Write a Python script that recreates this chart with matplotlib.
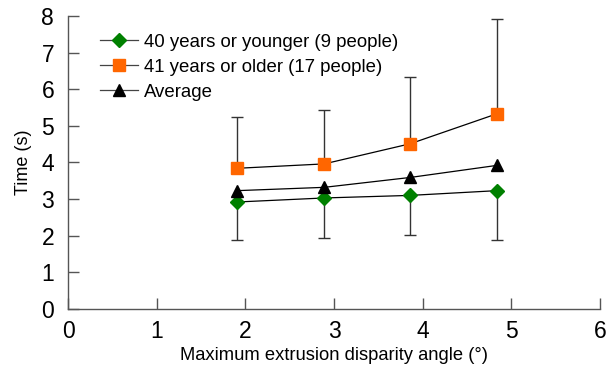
import matplotlib
matplotlib.use("Agg")
import matplotlib.pyplot as plt

plt.rcParams['font.family'] = ['Liberation Sans', 'DejaVu Sans']

angles = [1.91, 2.89, 3.86, 4.84]
young = [2.92, 3.03, 3.10, 3.23]
young_lower = [1.89, 1.94, 2.03, 1.89]
older = [3.84, 3.96, 4.51, 5.33]
older_upper = [5.23, 5.44, 6.33, 7.92]
average = [3.23, 3.32, 3.59, 3.92]
labels = ["40 years or younger (9 people)", "41 years or older (17 people)", "Average"]

fig = plt.figure(figsize=(6.15, 3.7), dpi=100)
ax = fig.add_axes([0.1106, 0.165, 0.865, 0.792])

yerr_young = [[y - l for y, l in zip(young, young_lower)], [0] * len(young)]
yerr_older = [[0] * len(older), [u - o for u, o in zip(older_upper, older)]]

ax.errorbar(angles, young, yerr=yerr_young, fmt='none', ecolor='#333333', elinewidth=1.0, capsize=4, capthick=1.0, zorder=1)
ax.errorbar(angles, older, yerr=yerr_older, fmt='none', ecolor='#333333', elinewidth=1.0, capsize=4, capthick=1.0, zorder=1)

ax.plot(angles, young, color='black', lw=0.9, marker='D', markersize=7.5,
        markerfacecolor='#008000', markeredgecolor='#008000', label=labels[0], zorder=3)
ax.plot(angles, older, color='black', lw=0.9, marker='s', markersize=8,
        markerfacecolor='#ff6600', markeredgecolor='#ff6600', label=labels[1], zorder=3)
ax.plot(angles, average, color='black', lw=0.9, marker='^', markersize=8.5,
        markerfacecolor='black', markeredgecolor='black', label=labels[2], zorder=3)

ax.set_xlim(0, 6)
ax.set_ylim(0, 8)
ax.set_xticks(range(0, 7))
ax.set_yticks(range(0, 9))
ax.spines['top'].set_visible(False)
ax.spines['right'].set_visible(False)
for s in ['left', 'bottom']:
    ax.spines[s].set_color('#555555')
    ax.spines[s].set_linewidth(1.0)
ax.tick_params(axis='both', direction='in', length=8, width=1, color='#555555', labelsize=16.5)
ax.tick_params(axis='x', pad=8)
ax.tick_params(axis='y', pad=10)

ax.set_xlabel('Maximum extrusion disparity angle (°)', fontsize=13.2, labelpad=3)
ax.set_ylabel('Time (s)', fontsize=13, labelpad=7)

leg = ax.legend(loc='upper left', bbox_to_anchor=(0.046, 0.965), frameon=False, fontsize=13.4,
                handlelength=2.05, handletextpad=0.3, labelspacing=0.43, borderaxespad=0.0)
for line in leg.get_lines():
    line.set_color('#444444')

fig.savefig('out.png', dpi=100)
